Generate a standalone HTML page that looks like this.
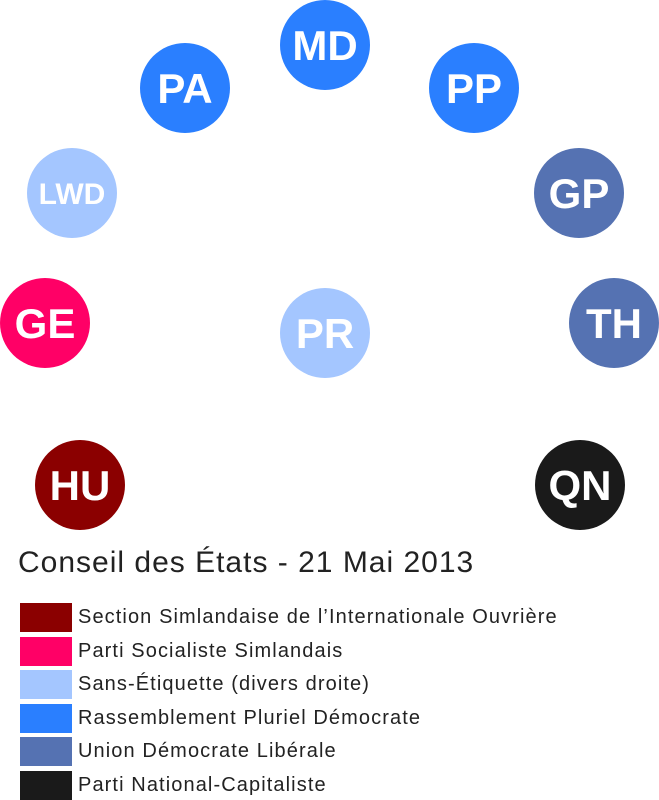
<!DOCTYPE html>
<html><head><meta charset="utf-8"><style>
body{margin:0;width:659px;height:800px;background:#fff;overflow:hidden;position:relative;font-family:"Liberation Sans",sans-serif}
.sw{position:absolute;left:20px;width:52px;height:29px}
.lt{position:absolute;left:78px;font-size:20px;color:#222;line-height:29px;white-space:nowrap;letter-spacing:1.1px}
</style></head><body>
<svg width="659" height="560" style="position:absolute;left:0;top:0" font-family="Liberation Sans, sans-serif" font-weight="bold" fill="#fff" text-anchor="middle">
<g>
<circle cx="325" cy="45" r="45" fill="#2a7fff"/><text x="325" y="60" font-size="42" fill="#fff">MD</text>
<circle cx="185" cy="88" r="45" fill="#2a7fff"/><text x="185" y="103" font-size="42" fill="#fff">PA</text>
<circle cx="474" cy="88" r="45" fill="#2a7fff"/><text x="474" y="103" font-size="42" fill="#fff">PP</text>
<circle cx="72" cy="193" r="45" fill="#a4c6ff"/><text x="72" y="204" font-size="30" fill="#fff">LWD</text>
<circle cx="579" cy="193" r="45" fill="#5572b2"/><text x="579" y="208" font-size="42" fill="#fff">GP</text>
<circle cx="45" cy="323" r="45" fill="#ff0066"/><text x="45" y="338" font-size="42" fill="#fff">GE</text>
<circle cx="614" cy="323" r="45" fill="#5572b2"/><text x="614" y="338" font-size="42" fill="#fff">TH</text>
<circle cx="325" cy="333" r="45" fill="#a4c6ff"/><text x="325" y="348" font-size="42" fill="#fff">PR</text>
<circle cx="80" cy="485" r="45" fill="#8b0000"/><text x="80" y="500" font-size="42" fill="#fff">HU</text>
<circle cx="580" cy="485" r="45" fill="#1a1a1a"/><text x="580" y="500" font-size="42" fill="#fff">QN</text>
</g></svg>
<div style="position:absolute;left:18px;top:546px;font-size:30px;color:#222;white-space:nowrap;letter-spacing:1px">Conseil des États - 21 Mai 2013</div>
<div class="sw" style="top:603px;background:#8b0000"></div><div class="lt" style="top:603px">Section Simlandaise de l’Internationale Ouvrière</div>
<div class="sw" style="top:637px;background:#ff0066"></div><div class="lt" style="top:637px">Parti Socialiste Simlandais</div>
<div class="sw" style="top:670px;background:#a4c6ff"></div><div class="lt" style="top:670px">Sans-Étiquette (divers droite)</div>
<div class="sw" style="top:704px;background:#2a7fff"></div><div class="lt" style="top:704px">Rassemblement Pluriel Démocrate</div>
<div class="sw" style="top:737px;background:#5572b2"></div><div class="lt" style="top:737px">Union Démocrate Libérale</div>
<div class="sw" style="top:771px;background:#1a1a1a"></div><div class="lt" style="top:771px">Parti National-Capitaliste</div>
</body></html>
